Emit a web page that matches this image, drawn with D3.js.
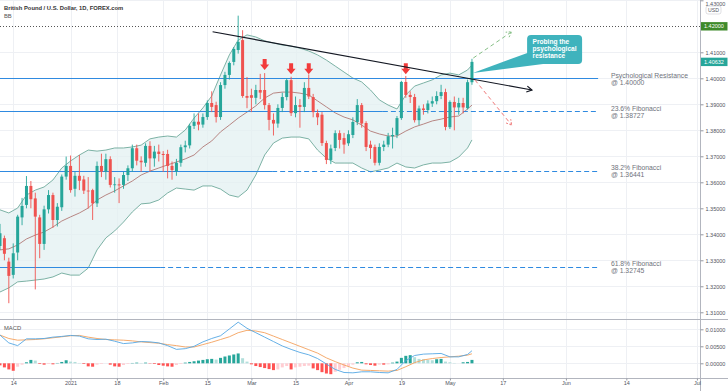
<!DOCTYPE html>
<html>
<head>
<meta charset="utf-8">
<script src="https://cdn.jsdelivr.net/npm/d3@7"></script>
<style>
  body { margin: 0; background: #fff; }
  svg { display: block; font-family: "Liberation Sans", Arial, sans-serif; }
  .axis text { fill: #50535e; font-size: 5.5px; }
  .axis line { stroke: #9598a1; }
  .level-label { fill: #6f727c; font-size: 6.8px; }
</style>
</head>
<body>
<svg id="chart"></svg>
<script>
// daily GBP/USD candles, first bar sits at slot -3 (Dec 9)
const startIdx = -3;
const open = [1.3355,1.3385,1.3295,1.3244,1.3330,1.3465,1.3513,1.3586,1.3538,1.3465,1.3363,1.3496,1.3551,1.3455,1.3504,1.3622,
  1.3663,1.3575,1.3625,1.3611,1.3568,1.3570,1.3519,1.3663,1.3641,1.3689,1.3590,1.3592,1.3590,1.3628,1.3654,1.3731,
  1.3683,1.3675,1.3740,1.3692,1.3718,1.3709,1.3709,1.3663,1.3643,1.3675,1.3735,1.3742,1.3817,1.3833,1.3822,1.3851,
  1.3905,1.3897,1.3851,1.3974,1.4013,1.4063,1.4109,1.4147,1.3932,1.3935,1.3925,1.3955,1.3955,1.3897,1.3840,1.3826,
  1.3886,1.3928,1.3993,1.3866,1.3897,1.3890,1.3963,1.3928,1.3866,1.3860,1.3751,1.3686,1.3732,1.3789,1.3770,1.3750,
  1.3782,1.3832,1.3897,1.3828,1.3745,1.3736,1.3675,1.3736,1.3745,1.3777,1.3782,1.3847,1.3986,1.3936,1.3928,1.3839,
  1.3884,1.3878,1.3903,1.3912,1.3932,1.3947,1.3812,1.3909,1.3888,1.3905,1.3885,1.3985];
const high = [1.3440,1.3395,1.3310,1.3365,1.3475,1.3540,1.3624,1.3605,1.3560,1.3475,1.3510,1.3570,1.3560,1.3520,1.3630,1.3699,
  1.3703,1.3640,1.3705,1.3625,1.3620,1.3575,1.3680,1.3710,1.3710,1.3700,1.3620,1.3615,1.3640,1.3665,1.3745,1.3745,
  1.3700,1.3750,1.3758,1.3740,1.3745,1.3720,1.3725,1.3680,1.3690,1.3745,1.3760,1.3825,1.3865,1.3865,1.3865,1.3915,
  1.3950,1.3910,1.3985,1.4025,1.4065,1.4120,1.4241,1.4185,1.4005,1.3960,1.3975,1.4017,1.4020,1.3905,1.3865,1.3900,
  1.3945,1.4000,1.4006,1.3930,1.3920,1.3985,1.4015,1.3940,1.3880,1.3870,1.3760,1.3745,1.3800,1.3800,1.3790,1.3800,
  1.3850,1.3920,1.3905,1.3835,1.3760,1.3745,1.3750,1.3760,1.3790,1.3810,1.3855,1.3990,1.4009,1.3950,1.3940,1.3895,
  1.3900,1.3915,1.3930,1.3950,1.3975,1.3960,1.3915,1.3930,1.3925,1.3925,1.3995,1.4075];
const low = [1.3340,1.3300,1.3135,1.3230,1.3300,1.3435,1.3500,1.3500,1.3188,1.3308,1.3340,1.3480,1.3425,1.3430,1.3490,1.3610,
  1.3560,1.3545,1.3570,1.3555,1.3500,1.3455,1.3505,1.3620,1.3610,1.3580,1.3560,1.3520,1.3575,1.3605,1.3640,1.3665,
  1.3640,1.3660,1.3640,1.3660,1.3680,1.3640,1.3615,1.3610,1.3625,1.3660,1.3715,1.3730,1.3805,1.3800,1.3810,1.3840,
  1.3870,1.3830,1.3840,1.3960,1.3995,1.4050,1.4095,1.3925,1.3885,1.3870,1.3900,1.3920,1.3880,1.3800,1.3780,1.3810,
  1.3870,1.3915,1.3855,1.3850,1.3810,1.3870,1.3920,1.3850,1.3820,1.3740,1.3670,1.3670,1.3720,1.3730,1.3710,1.3740,
  1.3770,1.3820,1.3810,1.3720,1.3690,1.3665,1.3665,1.3720,1.3735,1.3730,1.3770,1.3840,1.3925,1.3905,1.3830,1.3820,
  1.3860,1.3865,1.3890,1.3900,1.3920,1.3800,1.3805,1.3800,1.3860,1.3865,1.3880,1.3975];
const close = [1.3404,1.3325,1.3240,1.3327,1.3468,1.3509,1.3586,1.3535,1.3468,1.3363,1.3496,1.3551,1.3455,1.3506,1.3622,1.3663,
  1.3570,1.3625,1.3606,1.3568,1.3565,1.3519,1.3663,1.3641,1.3689,1.3590,1.3592,1.3588,1.3628,1.3654,1.3731,1.3683,
  1.3677,1.3740,1.3692,1.3718,1.3709,1.3705,1.3663,1.3647,1.3675,1.3735,1.3742,1.3817,1.3833,1.3822,1.3851,1.3905,
  1.3890,1.3851,1.3974,1.4013,1.4059,1.4113,1.4140,1.3932,1.3925,1.3925,1.3955,1.3945,1.3897,1.3840,1.3826,1.3886,
  1.3928,1.3993,1.3866,1.3897,1.3890,1.3963,1.3930,1.3870,1.3850,1.3751,1.3686,1.3730,1.3789,1.3763,1.3745,1.3785,
  1.3832,1.3897,1.3826,1.3736,1.3732,1.3675,1.3736,1.3745,1.3777,1.3782,1.3847,1.3986,1.3936,1.3928,1.3839,1.3884,
  1.3878,1.3903,1.3912,1.3932,1.3947,1.3813,1.3909,1.3888,1.3905,1.3888,1.3985,1.40632];

// MACD histogram, one value per candle
const macdHist = [-0.0006,-0.0012,-0.0018,-0.0022,-0.0010,-0.0004,0.0003,0.0010,0.0008,-0.0002,-0.0004,-0.0002,-0.0003,0.0001,0.0004,0.0009,
  0.0005,0.0004,0.0001,-0.0002,-0.0009,-0.0010,-0.0004,-0.0002,0.0000,-0.0004,-0.0009,-0.0010,-0.0005,-0.0002,0.0001,0.0002,
  0.0001,0.0002,-0.0001,-0.0002,-0.0005,-0.0007,-0.0009,-0.0010,-0.0005,-0.0002,0.0002,0.0004,0.0006,0.0008,0.0010,0.0012,
  0.0013,0.0011,0.0016,0.0020,0.0023,0.0026,0.0029,0.0015,0.0005,-0.0003,-0.0008,-0.0011,-0.0014,-0.0017,-0.0020,-0.0018,
  -0.0012,-0.0008,-0.0018,-0.0012,-0.0010,-0.0008,-0.0007,-0.0015,-0.0020,-0.0026,-0.0030,-0.0032,-0.0025,-0.0019,-0.0014,-0.0009,
  -0.0004,0.0003,0.0004,-0.0003,-0.0005,-0.0007,-0.0004,-0.0004,-0.0003,0.0002,0.0005,0.0016,0.0022,0.0024,0.0018,0.0013,
  0.0012,0.0010,0.0009,0.0012,0.0013,0.0005,0.0003,0.0001,0.0000,0.0003,0.0004,0.0010];

// indicator lines read every second bar
const lineIdx = [-3,-1,1,3,5,7,9,11,13,15,17,19,21,23,25,27,29,31,33,35,37,39,41,43,45,47,49,51,53,55,57,59,61,63,65,67,69,71,73,75,77,79,81,83,85,87,89,91,93,95,97,99,101,103,104];
const bbUpper = [1.3494,1.3482,1.3501,1.3551,1.3570,1.3582,1.3609,1.3655,1.3682,1.3705,1.3724,1.3720,1.3724,1.3732,1.3732,1.3736,1.3743,1.3767,1.3774,1.3778,1.3774,1.3801,1.3847,1.3886,1.3932,1.4013,1.4090,1.4147,1.4167,1.4159,1.4144,1.4136,1.4128,1.4124,1.4116,1.4105,1.4090,1.4070,1.4047,1.4024,1.4001,1.3986,1.3955,1.3917,1.3897,1.3882,1.3936,1.3970,1.3982,1.3994,1.4013,1.4020,1.4013,1.4032,1.4051];
const bbBasis = [1.3340,1.3344,1.3359,1.3382,1.3397,1.3409,1.3428,1.3451,1.3467,1.3482,1.3501,1.3532,1.3551,1.3567,1.3586,1.3605,1.3628,1.3643,1.3655,1.3667,1.3678,1.3690,1.3705,1.3736,1.3759,1.3794,1.3820,1.3847,1.3870,1.3894,1.3924,1.3943,1.3947,1.3947,1.3943,1.3936,1.3913,1.3890,1.3867,1.3851,1.3840,1.3820,1.3797,1.3786,1.3778,1.3778,1.3797,1.3813,1.3824,1.3836,1.3843,1.3851,1.3855,1.3882,1.3897];
const bbLower = [1.3178,1.3194,1.3217,1.3220,1.3224,1.3228,1.3236,1.3251,1.3243,1.3243,1.3270,1.3340,1.3386,1.3413,1.3447,1.3486,1.3517,1.3520,1.3532,1.3559,1.3578,1.3574,1.3570,1.3586,1.3586,1.3574,1.3551,1.3543,1.3570,1.3628,1.3705,1.3751,1.3770,1.3774,1.3774,1.3767,1.3724,1.3693,1.3674,1.3674,1.3674,1.3655,1.3640,1.3647,1.3655,1.3674,1.3659,1.3655,1.3667,1.3674,1.3674,1.3678,1.3697,1.3732,1.3763];
const macdLine = [0.0083,0.0060,0.0052,0.0072,0.0072,0.0073,0.0077,0.0079,0.0082,0.0080,0.0072,0.0070,0.0071,0.0065,0.0058,0.0060,0.0064,0.0063,0.0060,0.0052,0.0041,0.0043,0.0050,0.0063,0.0073,0.0081,0.0101,0.0121,0.0103,0.0090,0.0077,0.0064,0.0051,0.0041,0.0032,0.0025,0.0014,-0.0002,-0.0018,-0.0027,-0.0028,-0.0025,-0.0025,-0.0027,-0.0028,-0.0018,0.0008,0.0023,0.0027,0.0028,0.0029,0.0019,0.0019,0.0026,0.0037];
const signalLine = [0.0083,0.0073,0.0068,0.0069,0.0070,0.0072,0.0075,0.0078,0.0081,0.0082,0.0077,0.0073,0.0070,0.0069,0.0068,0.0066,0.0063,0.0061,0.0059,0.0055,0.0052,0.0048,0.0048,0.0055,0.0062,0.0070,0.0078,0.0090,0.0097,0.0095,0.0090,0.0080,0.0070,0.0060,0.0050,0.0040,0.0030,0.0016,0.0005,-0.0005,-0.0014,-0.0020,-0.0021,-0.0022,-0.0023,-0.0021,-0.0010,0.0002,0.0010,0.0014,0.0017,0.0019,0.0021,0.0024,0.0028];

// axes
const priceTicks = [1.31,1.32,1.33,1.34,1.35,1.36,1.37,1.38,1.39,1.40,1.41,1.43];
const macdTicks = [0, 0.005, 0.01];
const timeTickIdx = [0,13,23.5,34,44,54,64,76,88,99,111,125.3,139,155];
const timeTickLabels = ['14','2021','18','Feb','15','Mar','15','Apr','19','May','17','Jun','14','Jul'];

// drawings
const levelPrice = [1.40, 1.38727, 1.36441, 1.32745];
const levelName = ['Psychological Resistance', '23.6% Fibonacci', '38.2% Fibonacci', '61.8% Fibonacci'];
const levelSolidTo = [132.6, 83.8, 58.7, 33.3];
const levelEnd = 132.6;
const levelLabelAt = 135.5;
const dottedLevel = 1.42;
const lastPrice = 1.40632;
const arrowIdx = [57, 63, 67, 89];
const arrowPrice = [1.4032, 1.4016, 1.4016, 1.4016];
const trendIdx = [45.2, 117.6];
const trendPrice = [1.4179, 1.3955];
const upArrowIdx = [104.3, 113];
const upArrowPrice = [1.4078, 1.4179];
const downArrowIdx = [104.7, 113];
const downArrowPrice = [1.3993, 1.3820];
const calloutIdx = 116.5;
const calloutPrice = 1.4167;
const calloutTipIdx = 104.2;
const calloutTipPrice = 1.4020;
const calloutText = ['Probing the', 'psychological', 'resistance'];

class CandleChart {

  constructor(_config) {
    this.config = {
      parentElement: _config.parentElement,
      containerWidth: _config.containerWidth || 728,
      containerHeight: _config.containerHeight || 391,
      axisX: 700,
      paneBottom: 319,
      macdBottom: 378,
      barWidth: 3
    }
    this.initVis();
  }

  initVis() {
    let vis = this;
    const c = vis.config;

    vis.xScale = d3.scaleLinear()
        .domain([-3, 155.7])
        .range([0, c.axisX]);

    vis.yScale = d3.scaleLinear()
        .domain([1.30742, 1.43012])
        .range([c.paneBottom, 0]);

    vis.mScale = d3.scaleLinear()
        .domain([-0.00432, 0.01303])
        .range([c.macdBottom, c.paneBottom]);

    vis.svg = d3.select(c.parentElement)
        .attr('width', c.containerWidth)
        .attr('height', c.containerHeight);

    const defs = vis.svg.append('defs');
    defs.append('clipPath').attr('id', 'clip-price')
      .append('rect').attr('width', c.axisX).attr('height', c.paneBottom);
    defs.append('clipPath').attr('id', 'clip-macd')
      .append('rect').attr('y', c.paneBottom).attr('width', c.axisX).attr('height', c.macdBottom - c.paneBottom);

    vis.bars = open.map((o, k) => ({
      i: startIdx + k, o: o, h: high[k], l: low[k], c: close[k],
      hist: macdHist[k], prev: k > 0 ? macdHist[k - 1] : macdHist[k]
    }));
    vis.lines = lineIdx.map((i, k) => ({
      i: i, up: bbUpper[k], mid: bbBasis[k], lo: bbLower[k], macd: macdLine[k], sig: signalLine[k]
    }));

    vis.renderVis();
  }

  renderVis() {
    let vis = this;
    const c = vis.config;
    const x = vis.xScale, y = vis.yScale, m = vis.mScale;

    // grid
    const grid = vis.svg.append('g').attr('stroke', '#eef0f4').attr('stroke-width', 1);
    grid.selectAll('.vgrid').data(timeTickIdx).join('line')
        .attr('x1', d => Math.round(x(d)) + 0.5).attr('x2', d => Math.round(x(d)) + 0.5)
        .attr('y1', 0).attr('y2', c.macdBottom);
    grid.selectAll('.hgrid').data(priceTicks).join('line')
        .attr('x1', 0).attr('x2', c.axisX)
        .attr('y1', d => Math.round(y(d)) + 0.5).attr('y2', d => Math.round(y(d)) + 0.5);
    grid.selectAll('.mgrid').data(macdTicks).join('line')
        .attr('x1', 0).attr('x2', c.axisX)
        .attr('y1', d => Math.round(m(d)) + 0.5).attr('y2', d => Math.round(m(d)) + 0.5);

    const price = vis.svg.append('g').attr('clip-path', 'url(#clip-price)');

    // bollinger bands
    price.append('path').datum(vis.lines)
        .attr('fill', '#e3f0f2').attr('opacity', 0.75)
        .attr('d', d3.area().x(d => x(d.i)).y0(d => y(d.lo)).y1(d => y(d.up)));
    ['up', 'lo'].forEach(key => {
      price.append('path').datum(vis.lines)
          .attr('fill', 'none').attr('stroke', '#6ea99b').attr('stroke-width', 0.9)
          .attr('d', d3.line().x(d => x(d.i)).y(d => y(d[key])));
    });
    price.append('path').datum(vis.lines)
        .attr('fill', 'none').attr('stroke', '#a96a66').attr('stroke-width', 0.8)
        .attr('d', d3.line().x(d => x(d.i)).y(d => y(d.mid)));

    // horizontal levels
    levelPrice.forEach((p, k) => {
      const yy = Math.round(y(p)) + 0.5;
      price.append('line')
          .attr('x1', 0).attr('x2', x(levelSolidTo[k]))
          .attr('y1', yy).attr('y2', yy)
          .attr('stroke', '#2f8ae0').attr('stroke-width', 1);
      if (levelSolidTo[k] < levelEnd) {
        price.append('line')
            .attr('x1', x(levelSolidTo[k])).attr('x2', x(levelEnd))
            .attr('y1', yy).attr('y2', yy)
            .attr('stroke', '#2f8ae0').attr('stroke-width', 1)
            .attr('stroke-dasharray', '5,3');
      }
      const t = price.append('text').attr('class', 'level-label')
          .attr('x', x(levelLabelAt)).attr('y', y(p));
      t.append('tspan').attr('x', x(levelLabelAt)).attr('dy', -0.8).text(levelName[k]);
      t.append('tspan').attr('x', x(levelLabelAt)).attr('dy', 7.2).text('@ ' + d3.format('.5f')(p));
    });

    price.append('line')
        .attr('x1', 0).attr('x2', c.axisX)
        .attr('y1', Math.round(y(dottedLevel)) + 0.5).attr('y2', Math.round(y(dottedLevel)) + 0.5)
        .attr('stroke', '#555').attr('stroke-width', 1).attr('stroke-dasharray', '1,2');

    // candles
    const candle = price.selectAll('.candle').data(vis.bars).join('g').attr('class', 'candle');
    const col = d => d.c >= d.o ? '#26a69a' : '#ef5350';
    candle.append('line')
        .attr('x1', d => x(d.i)).attr('x2', d => x(d.i))
        .attr('y1', d => y(d.h)).attr('y2', d => y(d.l))
        .attr('stroke', col).attr('stroke-width', 0.9);
    candle.append('rect')
        .attr('x', d => x(d.i) - c.barWidth / 2)
        .attr('width', c.barWidth)
        .attr('y', d => y(Math.max(d.o, d.c)))
        .attr('height', d => Math.max(0.8, Math.abs(y(d.o) - y(d.c))))
        .attr('fill', col);

    // red markers over rejected highs
    price.selectAll('.marker').data(arrowIdx).join('path')
        .attr('transform', (d, k) => `translate(${x(d)},${y(arrowPrice[k])})`)
        .attr('d', 'M-2,-11L2,-11L2,-5.5L4.5,-5.5L0,0L-4.5,-5.5L-2,-5.5Z')
        .attr('fill', '#f23b3b');

    const chevron = (x1, y1, x2, y2, len) => {
      const a = Math.atan2(y2 - y1, x2 - x1);
      const p1 = [x2 - len * Math.cos(a - Math.PI / 6), y2 - len * Math.sin(a - Math.PI / 6)];
      const p2 = [x2 - len * Math.cos(a + Math.PI / 6), y2 - len * Math.sin(a + Math.PI / 6)];
      return `M${p1[0]},${p1[1]}L${x2},${y2}L${p2[0]},${p2[1]}`;
    };
    const drawArrow = (idx, pr, color, width, dash) => {
      const x1 = x(idx[0]), y1 = y(pr[0]), x2 = x(idx[1]), y2 = y(pr[1]);
      const g = price.append('g').attr('stroke', color).attr('stroke-width', width).attr('fill', 'none');
      g.append('line').attr('x1', x1).attr('y1', y1).attr('x2', x2).attr('y2', y2)
          .attr('stroke-dasharray', dash);
      g.append('path').attr('d', chevron(x1, y1, x2, y2, 6)).attr('stroke-dasharray', dash ? '2,1.5' : null);
    };
    drawArrow(trendIdx, trendPrice, '#131722', 1.2, null);
    drawArrow(upArrowIdx, upArrowPrice, '#86bf86', 1, '4,3');
    drawArrow(downArrowIdx, downArrowPrice, '#f07b7b', 1, '4,3');

    // callout
    const bx = x(calloutIdx), by = y(calloutPrice), bw = 55, bh = 29;
    const tipX = x(calloutTipIdx), tipY = y(calloutTipPrice);
    price.append('path')
        .attr('d', `M${bx + 3},${by + bh - 12}L${tipX},${tipY}L${bx + 16},${by + bh}Z`)
        .attr('fill', '#3fb3bd');
    price.append('rect')
        .attr('x', bx).attr('y', by).attr('width', bw).attr('height', bh).attr('rx', 4)
        .attr('fill', '#3fb3bd');
    price.append('text')
        .attr('fill', '#fff').attr('font-size', 6.6).attr('font-weight', 'bold')
        .selectAll('tspan').data(calloutText).join('tspan')
        .attr('x', bx + 5.5).attr('y', (d, k) => by + 9.5 + k * 6.6)
        .text(d => d);

    // MACD pane
    const macd = vis.svg.append('g').attr('clip-path', 'url(#clip-macd)');
    const histCol = d => d.hist >= 0
        ? (d.hist >= d.prev ? '#26a69a' : '#b2dfdb')
        : (d.hist <= d.prev ? '#ff5252' : '#ffcdd2');
    macd.selectAll('.hist').data(vis.bars).join('rect')
        .attr('x', d => x(d.i) - c.barWidth / 2)
        .attr('width', c.barWidth)
        .attr('y', d => m(Math.max(0, d.hist)))
        .attr('height', d => Math.abs(m(d.hist) - m(0)))
        .attr('fill', histCol);
    macd.append('path').datum(vis.lines)
        .attr('fill', 'none').attr('stroke', '#f4a25e').attr('stroke-width', 0.9)
        .attr('d', d3.line().x(d => x(d.i)).y(d => m(d.sig)));
    macd.append('path').datum(vis.lines)
        .attr('fill', 'none').attr('stroke', '#55a7e3').attr('stroke-width', 0.9)
        .attr('d', d3.line().x(d => x(d.i)).y(d => m(d.macd)));

    // frame lines
    const frame = vis.svg.append('g').attr('stroke', '#b2b5be').attr('stroke-width', 1);
    frame.append('line').attr('x1', c.axisX + 0.5).attr('x2', c.axisX + 0.5).attr('y1', 0).attr('y2', c.containerHeight);
    frame.append('line').attr('x1', 0).attr('x2', c.containerWidth).attr('y1', c.paneBottom + 0.5).attr('y2', c.paneBottom + 0.5);
    frame.append('line').attr('x1', 0).attr('x2', c.containerWidth).attr('y1', c.macdBottom + 0.5).attr('y2', c.macdBottom + 0.5);

    // axes
    vis.yAxis = d3.axisRight(y).tickValues(priceTicks).tickFormat(d3.format('.5f')).tickSize(3).tickPadding(2);
    vis.svg.append('g').attr('class', 'axis')
        .attr('transform', `translate(${c.axisX + 0.5},0)`)
        .call(vis.yAxis)
        .call(g => g.select('.domain').remove())
        // top label would sit half outside the picture
        .call(g => g.selectAll('.tick text').filter(d => d === 1.43).attr('dy', '0.95em'));

    vis.mAxis = d3.axisRight(m).tickValues(macdTicks).tickFormat(d3.format('.5f')).tickSize(3).tickPadding(2);
    vis.svg.append('g').attr('class', 'axis')
        .attr('transform', `translate(${c.axisX + 0.5},0)`)
        .call(vis.mAxis)
        .call(g => g.select('.domain').remove());

    vis.xAxis = d3.axisBottom(x).tickValues(timeTickIdx).tickFormat((d, k) => timeTickLabels[k]).tickSize(2).tickPadding(1);
    vis.svg.append('g').attr('class', 'axis')
        .attr('transform', `translate(0,${c.macdBottom + 0.5})`)
        .call(vis.xAxis)
        .call(g => g.select('.domain').remove());

    // price badges
    const badge = (p, fill) => {
      const g = vis.svg.append('g').attr('transform', `translate(${c.axisX + 1},${y(p)})`);
      g.append('rect').attr('x', 0).attr('y', -4.2).attr('width', 26.5).attr('height', 8.4).attr('fill', fill);
      g.append('text').attr('x', 3).attr('y', 2).attr('fill', '#fff').attr('font-size', 5.5)
          .text(d3.format('.5f')(p));
    };
    badge(dottedLevel, '#3f8a2b');
    badge(lastPrice, '#26a69a');

    const usd = vis.svg.append('g').attr('transform', `translate(${c.axisX + 6},6)`);
    usd.append('rect').attr('width', 15).attr('height', 8).attr('rx', 2)
        .attr('fill', '#fff').attr('stroke', '#c9cbd1').attr('stroke-width', 0.6);
    usd.append('text').attr('x', 7.5).attr('y', 5.9).attr('text-anchor', 'middle')
        .attr('fill', '#50535e').attr('font-size', 5.2).text('USD');

    // titles
    vis.svg.append('text').attr('x', 4).attr('y', 9.5)
        .attr('fill', '#333').attr('font-size', 5.8).attr('font-weight', 'bold')
        .text('British Pound / U.S. Dollar, 1D, FOREX.com');
    vis.svg.append('text').attr('x', 4).attr('y', 17.5)
        .attr('fill', '#555').attr('font-size', 5.8).text('BB');
    vis.svg.append('text').attr('x', 4).attr('y', c.paneBottom + 10.5)
        .attr('fill', '#555').attr('font-size', 5.8).text('MACD');
  }
}

new CandleChart({ parentElement: '#chart' });
</script>
</body>
</html>
